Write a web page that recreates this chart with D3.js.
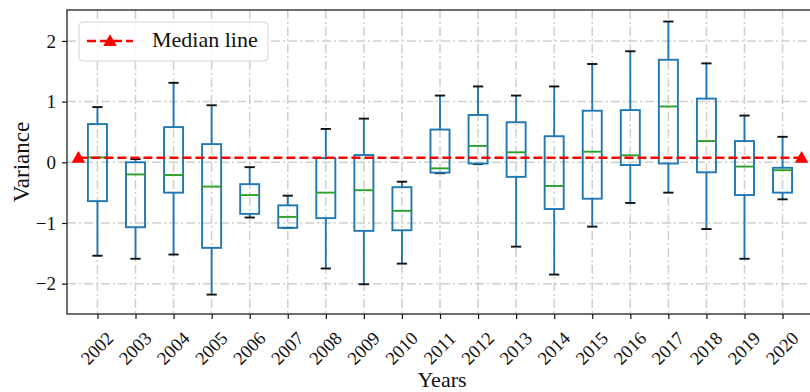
<!DOCTYPE html>
<html lang="en">
<head>
    <meta charset="UTF-8">
    <title>Variance by year</title>
    <style>
        body { margin: 0; background: #fff; }
        svg { display: block; font-family: "Liberation Serif", "DejaVu Serif", serif; }
    </style>
</head>
<body>
    <svg width="810" height="392"></svg>

    <script src="https://d3js.org/d3.v7.min.js"></script>
    <script>
        // values
        var years = ['2002','2003','2004','2005','2006','2007','2008','2009','2010','2011',
                     '2012','2013','2014','2015','2016','2017','2018','2019','2020'];
        var whiskLo = [-1.54,-1.59,-1.52,-2.18,-0.91,-1.08,-1.75,-2.01,-1.67,-0.18,
                       -0.03,-1.39,-1.85,-1.06,-0.67,-0.50,-1.10,-1.59,-0.61];
        var q1      = [-0.64,-1.07,-0.50,-1.41,-0.85,-1.08,-0.92,-1.13,-1.12,-0.17,
                       -0.02,-0.24,-0.77,-0.60,-0.045,-0.02,-0.165,-0.54,-0.50];
        var medians = [0.08,-0.20,-0.21,-0.40,-0.54,-0.90,-0.50,-0.46,-0.80,-0.10,
                       0.27,0.165,-0.39,0.175,0.115,0.92,0.35,-0.07,-0.13];
        var q3      = [0.63,0.00,0.58,0.30,-0.36,-0.71,0.07,0.12,-0.41,0.54,
                       0.78,0.66,0.43,0.85,0.86,1.69,1.05,0.35,-0.09];
        var whiskHi = [0.91,0.054,1.31,0.94,-0.08,-0.55,0.55,0.72,-0.32,1.10,
                       1.25,1.10,1.25,1.62,1.83,2.32,1.63,0.77,0.42];
        var medianLine = 0.075;
        var yTicks = [-2, -1, 0, 1, 2];

        var svg = d3.select('svg');

        // plot area (right edge runs past the canvas, as in the original)
        var plotL = 67, plotR = 813, plotT = 10, plotB = 314;

        var x = d3.scaleLinear().domain([0.2, 19.8]).range([plotL, plotR]);
        var y = d3.scaleLinear().domain([-2.5, 2.51]).range([plotB, plotT]);

        var boxes = years.map(function(yr, i) {
            return {pos: i + 1, lo: whiskLo[i], q1: q1[i], med: medians[i], q3: q3[i], hi: whiskHi[i]};
        });

        // grid
        var grid = svg.append('g')
            .attr('stroke', '#cfcfcf')
            .attr('stroke-width', 1.5)
            .attr('stroke-dasharray', '9,3,2,3');
        grid.selectAll('line.v').data(boxes).enter().append('line')
            .attr('x1', function(d) { return x(d.pos); })
            .attr('x2', function(d) { return x(d.pos); })
            .attr('y1', plotT).attr('y2', plotB);
        grid.selectAll('line.h').data(yTicks).enter().append('line')
            .attr('x1', plotL).attr('x2', plotR)
            .attr('y1', function(d) { return y(d); })
            .attr('y2', function(d) { return y(d); });

        // boxes
        var bw = 0.5, cw = 0.27;
        var blue = '#1f77b4';
        var g = svg.selectAll('g.box').data(boxes).enter().append('g').attr('class', 'box');

        g.append('line') // lower whisker
            .attr('x1', function(d) { return x(d.pos); }).attr('x2', function(d) { return x(d.pos); })
            .attr('y1', function(d) { return y(d.q1); }).attr('y2', function(d) { return y(d.lo); })
            .attr('stroke', blue).attr('stroke-width', 1.9);
        g.append('line') // upper whisker
            .attr('x1', function(d) { return x(d.pos); }).attr('x2', function(d) { return x(d.pos); })
            .attr('y1', function(d) { return y(d.q3); }).attr('y2', function(d) { return y(d.hi); })
            .attr('stroke', blue).attr('stroke-width', 1.9);
        ['lo', 'hi'].forEach(function(k) {
            g.append('line')
                .attr('x1', function(d) { return x(d.pos - cw / 2); })
                .attr('x2', function(d) { return x(d.pos + cw / 2); })
                .attr('y1', function(d) { return y(d[k]); })
                .attr('y2', function(d) { return y(d[k]); })
                .attr('stroke', '#111').attr('stroke-width', 1.9);
        });
        g.append('rect')
            .attr('x', function(d) { return x(d.pos - bw / 2); })
            .attr('width', x(bw) - x(0))
            .attr('y', function(d) { return y(d.q3); })
            .attr('height', function(d) { return y(d.q1) - y(d.q3); })
            .attr('fill', 'none').attr('stroke', blue).attr('stroke-width', 1.9);
        g.append('line')
            .attr('x1', function(d) { return x(d.pos - bw / 2); })
            .attr('x2', function(d) { return x(d.pos + bw / 2); })
            .attr('y1', function(d) { return y(d.med); })
            .attr('y2', function(d) { return y(d.med); })
            .attr('stroke', '#2ca02c').attr('stroke-width', 1.9);

        // median line with triangle markers
        var tri = d3.symbol().type(d3.symbolTriangle).size(80);
        svg.append('line')
            .attr('x1', x(0.5)).attr('x2', x(19.5))
            .attr('y1', y(medianLine)).attr('y2', y(medianLine))
            .attr('stroke', 'red').attr('stroke-width', 2.7)
            .attr('stroke-dasharray', '9,4');
        svg.selectAll('path.mk').data([0.5, 19.5]).enter().append('path')
            .attr('d', tri)
            .attr('transform', function(d) { return 'translate(' + x(d) + ',' + (y(medianLine) + 1) + ')'; })
            .attr('fill', 'red');

        // axes
        var yAxis = svg.append('g')
            .attr('transform', 'translate(' + plotL + ',0)')
            .call(d3.axisLeft(y).tickValues(yTicks).tickFormat(d3.format('d')).tickSize(5).tickPadding(6));
        yAxis.select('.domain').remove();
        yAxis.attr('font-size', null).attr('font-family', null);
        yAxis.selectAll('text').attr('font-size', 19).attr('fill', '#111');
        yAxis.selectAll('line').attr('stroke', '#111').attr('stroke-width', 1.2);

        var xAxis = svg.append('g')
            .attr('transform', 'translate(0,' + plotB + ')')
            .call(d3.axisBottom(x)
                .tickValues(boxes.map(function(d) { return d.pos; }))
                .tickFormat(function(p) { return years[p - 1]; })
                .tickSize(5));
        xAxis.select('.domain').remove();
        xAxis.attr('font-size', null).attr('font-family', null);
        xAxis.selectAll('line').attr('stroke', '#111').attr('stroke-width', 1.2);
        xAxis.selectAll('text')
            .attr('font-size', 18.5).attr('fill', '#111')
            .attr('text-anchor', 'middle')
            .attr('y', 0).attr('dy', '0.35em')
            .attr('transform', 'translate(-1,34) rotate(-45)');

        // frame
        svg.append('rect')
            .attr('x', plotL).attr('y', plotT)
            .attr('width', plotR - plotL).attr('height', plotB - plotT)
            .attr('fill', 'none').attr('stroke', '#222').attr('stroke-width', 1.3);

        // axis titles
        svg.append('text')
            .attr('x', 442).attr('y', 387)
            .attr('text-anchor', 'middle')
            .attr('font-size', 22).attr('fill', '#111')
            .text('Years');
        svg.append('text')
            .attr('transform', 'translate(29,162) rotate(-90)')
            .attr('text-anchor', 'middle')
            .attr('font-size', 23).attr('fill', '#111')
            .text('Variance');

        // legend
        var leg = svg.append('g');
        leg.append('rect')
            .attr('x', 79).attr('y', 22).attr('width', 189).attr('height', 39).attr('rx', 4)
            .attr('fill', 'white').attr('fill-opacity', 0.85)
            .attr('stroke', '#d4d4d4').attr('stroke-width', 1);
        leg.append('line')
            .attr('x1', 87).attr('x2', 133).attr('y1', 41).attr('y2', 41)
            .attr('stroke', 'red').attr('stroke-width', 2.7).attr('stroke-dasharray', '9,4');
        leg.append('path').attr('d', tri).attr('transform', 'translate(110,42)').attr('fill', 'red');
        leg.append('text')
            .attr('x', 152).attr('y', 47)
            .attr('font-size', 22).attr('fill', '#111')
            .text('Median line');
    </script>
</body>
</html>
